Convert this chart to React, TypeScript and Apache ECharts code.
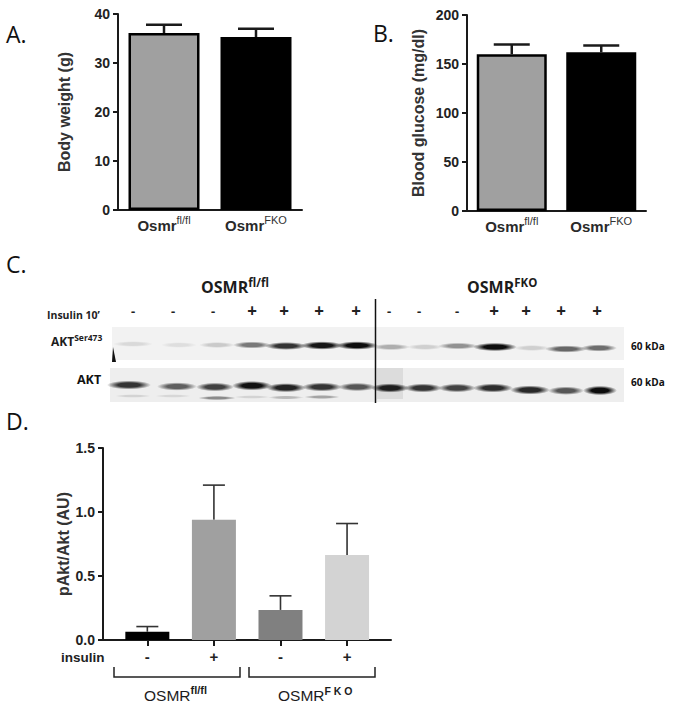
import React, { useEffect, useRef } from "react";
import * as echarts from "echarts";

// Panel A
const genotypesA = ["fl", "FKO"];
const bodyWeight = [36.1, 35.3];
const bodyWeightTop = [37.8, 37];
// Panel B
const bloodGlucose = [160, 162];
const bloodGlucoseTop = [170, 169];
// Panel D
const insulinPos = [0, 1, 2, 3];
const insulinLabels = ["-", "+", "-", "+"];
const pAkt = [0.065, 0.94, 0.235, 0.665];
const pAktTop = [0.105, 1.21, 0.345, 0.91];
const pAktColors = ["#000000", "#a0a0a0", "#808080", "#d3d3d3"];
// Panel C blot (lane centre in picture units, band height centre, width, darkness 0..1)
const laneX = [133, 179, 217, 252, 286, 322, 357, 391, 425, 458, 495, 532, 566, 599];
const pBandY = [344, 345, 345, 345, 346, 345.5, 345.5, 347, 347, 346, 347, 348, 349, 348];
const pBandW = [34, 30, 30, 32, 36, 36, 36, 32, 30, 34, 38, 30, 36, 30];
const pBandDark = [0.05, 0.03, 0.12, 0.5, 0.82, 0.96, 1, 0.25, 0.1, 0.38, 1, 0.1, 0.58, 0.55];
const aktX = [129, 177, 215, 252, 286, 322, 357, 390, 423, 457, 493, 530, 566, 600];
const aktBandY = [385, 386.5, 387, 385.7, 387.7, 387, 387, 388, 388, 388, 388, 390, 390.7, 390.5];
const aktBandW = [38, 34, 32, 34, 34, 34, 32, 32, 32, 32, 34, 34, 30, 28];
const aktBandDark = [0.82, 0.62, 0.76, 0.98, 0.9, 0.82, 0.66, 0.92, 0.82, 0.75, 0.85, 0.88, 0.66, 1];
const lowX = [133, 173, 217, 252, 286, 322];
const lowY = [396, 396, 398, 397, 397.5, 397];
const lowW = [30, 30, 32, 30, 30, 30];
const lowDark = [0.08, 0.06, 0.42, 0.08, 0.2, 0.3];
const blotInsulin = ["-", "-", "-", "+", "+", "+", "+", "-", "-", "-", "+", "+", "+", "+"];
const signX = [133, 173, 213, 252, 284, 319, 356, 389, 419, 457, 494, 526, 561, 597];

const SANS = '"Liberation Sans", Arial, sans-serif';
const CAL = '"Open Sans", "Noto Sans", sans-serif';
const AXC = "#1a1a1a";

function valueAxis(gridIndex: number, max: number, interval: number, name: string, nameGap: number, fmt?: any) {
  return {
    type: "value", gridIndex, min: 0, max, interval,
    name, nameLocation: "middle", nameGap,
    nameTextStyle: { fontFamily: SANS, fontWeight: "bold", fontSize: 16, color: "#333" },
    axisLine: { show: true, onZero: false, lineStyle: { color: AXC, width: 2 } },
    axisTick: { show: true, length: 5, lineStyle: { color: AXC, width: 2 } },
    axisLabel: { fontFamily: SANS, fontWeight: "bold", fontSize: 14, color: "#222", margin: 8, formatter: fmt },
    splitLine: { show: false },
  };
}

const supRich = {
  b: { fontFamily: SANS, fontWeight: "bold", fontSize: 15, color: "#2a2a2a", padding: [5, 0, 0, 0] },
  s: { fontFamily: SANS, fontSize: 11, color: "#333", padding: [0, 0, 6, 0] },
};

function catAxis(gridIndex: number) {
  return {
    type: "category", gridIndex, data: genotypesA,
    axisLine: { lineStyle: { color: AXC, width: 2 } },
    axisTick: { alignWithLabel: true, length: 6, lineStyle: { color: AXC, width: 2 } },
    axisLabel: {
      margin: 3, interval: 0, hideOverlap: false,
      formatter: (v: string) => (v === "fl" ? "{b|Osmr}{s|fl/fl}" : "{b|Osmr}{s|FKO}"),
      rich: supRich,
    },
  };
}

function errorSeries(xAxisIndex: number, yAxisIndex: number, xs: any[], lo: number[], hi: number[], capW: number, width: number, color: string) {
  return {
    type: "custom", xAxisIndex, yAxisIndex, silent: true, z: 1,
    data: xs.map((x, i) => [x, lo[i], hi[i]]),
    encode: { x: 0, y: [1, 2] },
    renderItem: (_p: any, api: any) => {
      const a = api.coord([api.value(0), api.value(1)]);
      const b = api.coord([api.value(0), api.value(2)]);
      const st = { stroke: color, lineWidth: width, fill: "none" };
      return {
        type: "group",
        children: [
          { type: "line", shape: { x1: a[0], y1: a[1], x2: b[0], y2: b[1] }, style: st },
          { type: "line", shape: { x1: b[0] - capW, y1: b[1], x2: b[0] + capW, y2: b[1] }, style: st },
        ],
      };
    },
  };
}

function bandFill(dark: number) {
  const v = Math.round(228 - 215 * dark);
  const c = `rgb(${v},${v},${v})`;
  return {
    type: "radial", x: 0.5, y: 0.5, r: 0.5,
    colorStops: [
      { offset: 0, color: c },
      { offset: 0.5, color: c },
      { offset: 1, color: `rgba(${v},${v},${v},0)` },
    ],
  };
}

function bandSeries(xs: number[], ys: number[], ws: number[], ds: number[], h: number) {
  return {
    type: "custom", xAxisIndex: 3, yAxisIndex: 3, silent: true, z: 3,
    data: xs.map((x, i) => [x, ys[i], ws[i], ds[i]]),
    renderItem: (_p: any, api: any) => {
      const c = api.coord([api.value(0), api.value(1)]);
      return {
        type: "ellipse",
        shape: { cx: c[0], cy: c[1], rx: api.value(2) / 2 + 3, ry: (h / 2) * (0.7 + 0.35 * api.value(3)) },
        style: { fill: bandFill(api.value(3)) },
      };
    },
  };
}

const label = (x: number, y: number, text: string, size: number, extra: any = {}) => ({
  type: "text", x, y, silent: true,
  style: { text, fontFamily: CAL, fontSize: size, fill: "#111", ...extra },
});

const blotTitle = (x: number, y: number, main: string, sup: string, family: string, ms: number, us: number, bold = true) => ({
  type: "text", x, y, silent: true,
  style: {
    text: `{m|${main}}{u|${sup}}`,
    rich: {
      m: { fontFamily: family, fontWeight: bold ? "bold" : "normal", fontSize: ms, fill: "#1c1c1c", padding: [Math.round(ms / 4), 0, 0, 0] },
      u: { fontFamily: family, fontWeight: "bold", fontSize: us, fill: "#1c1c1c", padding: [0, 0, Math.round(us / 2), 0] },
    },
  },
});

const option: any = {
  animation: false,
  grid: [
    { left: 118, top: 14, width: 184, height: 196 },
    { left: 467, top: 15, width: 179, height: 196 },
    { left: 103, top: 448, width: 288, height: 192 },
    { left: 0, top: 0, width: 674, height: 706 },
  ],
  xAxis: [
    catAxis(0),
    catAxis(1),
    {
      type: "value", gridIndex: 2, min: -0.666, max: 3.66,
      axisLine: { onZero: false, lineStyle: { color: AXC, width: 2 } },
      axisTick: { show: true, customValues: insulinPos, length: 6, lineStyle: { color: AXC, width: 2 } },
      axisLabel: {
        customValues: insulinPos, margin: 9, fontFamily: SANS, fontWeight: "bold", fontSize: 15, color: "#222",
        showMinLabel: true, showMaxLabel: true,
        formatter: (v: number) => insulinLabels[Math.round(v)],
      },
      splitLine: { show: false },
    },
    { type: "value", gridIndex: 3, min: 0, max: 674, show: false },
  ],
  yAxis: [
    valueAxis(0, 40, 10, "Body weight (g)", 46),
    valueAxis(1, 200, 50, "Blood glucose (mg/dl)", 41),
    valueAxis(2, 1.5, 0.5, "pAkt/Akt (AU)", 32, (v: number) => v.toFixed(1)),
    { type: "value", gridIndex: 3, min: 0, max: 706, inverse: true, show: false },
  ],
  series: [
    errorSeries(0, 0, genotypesA, bodyWeight, bodyWeightTop, 18, 2.5, AXC),
    {
      type: "bar", xAxisIndex: 0, yAxisIndex: 0, barWidth: 71, z: 2,
      data: bodyWeight.map((v, i) => ({
        value: v,
        itemStyle: { color: i ? "#000" : "#a0a0a0", borderColor: "#000", borderWidth: 2.5 },
      })),
    },
    errorSeries(1, 1, genotypesA, bloodGlucose, bloodGlucoseTop, 18, 2.5, AXC),
    {
      type: "bar", xAxisIndex: 1, yAxisIndex: 1, barWidth: 70, z: 2,
      data: bloodGlucose.map((v, i) => ({
        value: v,
        itemStyle: { color: i ? "#000" : "#a0a0a0", borderColor: "#000", borderWidth: 2.5 },
      })),
    },
    errorSeries(2, 2, insulinPos, pAkt, pAktTop, 11, 1.6, "#333"),
    {
      type: "bar", xAxisIndex: 2, yAxisIndex: 2, barWidth: 44, z: 2,
      data: insulinPos.map((x, i) => ({ value: [x, pAkt[i]], itemStyle: { color: pAktColors[i] } })),
    },
    bandSeries(laneX, pBandY, pBandW, pBandDark, 8),
    bandSeries(aktX, aktBandY, aktBandW, aktBandDark, 9),
    bandSeries(lowX, lowY, lowW, lowDark, 5),
  ],
  graphic: [
    { type: "rect", z: -1, silent: true, shape: { x: 112, y: 327, width: 512, height: 33 }, style: { fill: "#f2f2f2" } },
    { type: "rect", z: -1, silent: true, shape: { x: 110, y: 368, width: 514, height: 34 }, style: { fill: "#eeeeee" } },
    { type: "rect", z: -1, silent: true, shape: { x: 377, y: 368, width: 26, height: 31 }, style: { fill: "#dcdcdc" } },
    { type: "polygon", silent: true, shape: { points: [[113, 347], [116, 362], [112, 362]] }, style: { fill: "#111" } },
    { type: "line", silent: true, z: 10, shape: { x1: 375.5, y1: 299, x2: 375.5, y2: 403 }, style: { stroke: "#111", lineWidth: 1.5 } },

    label(6, 22, "A.", 23),
    label(373, 21, "B.", 23),
    label(6, 252, "C.", 23),
    label(6, 409, "D.", 23),

    blotTitle(201, 275, "OSMR", "fl/fl", CAL, 16, 11.5),
    blotTitle(467, 275, "OSMR", "FKO", CAL, 16, 11.5),
    label(47, 309, "Insulin 10\u2019", 10.5, { fontWeight: "bold", fill: "#222" }),
    ...blotInsulin.map((s, i) =>
      label(signX[i], s === "+" ? 302 : 304, s, s === "+" ? 17 : 13, { fontWeight: "bold", textAlign: "center", fill: "#222" })
    ),
    blotTitle(51, 332, "AKT", "Ser473", CAL, 12, 8.5),
    label(77, 373, "AKT", 12.5, { fontWeight: "bold" }),
    label(631, 341, "60 kDa", 10, { fontWeight: "bold" }),
    label(631, 377, "60 kDa", 10, { fontWeight: "bold" }),

    { type: "text", x: 61, y: 650, silent: true, style: { text: "insulin", fontFamily: SANS, fontWeight: "bold", fontSize: 13.5, fill: "#222" } },
    { type: "polyline", silent: true, shape: { points: [[114, 667], [114, 677], [240, 677], [240, 667]] }, style: { stroke: "#222", lineWidth: 1.5, fill: "none" } },
    { type: "polyline", silent: true, shape: { points: [[249, 667], [249, 677], [375, 677], [375, 667]] }, style: { stroke: "#222", lineWidth: 1.5, fill: "none" } },
    blotTitle(144, 683, "OSMR", "fl/fl", SANS, 15.5, 11, false),
    blotTitle(278, 683, "OSMR", "F K O", SANS, 15.5, 10.5, false),
  ],
};

export default function App() {
  const ref = useRef<HTMLDivElement>(null);
  useEffect(() => {
    const chart = echarts.init(ref.current!, undefined, { renderer: "svg" });
    chart.setOption(option);
    return () => chart.dispose();
  }, []);
  return <div ref={ref} style={{ position: "absolute", left: 0, top: 0, width: 674, height: 706 }} />;
}
